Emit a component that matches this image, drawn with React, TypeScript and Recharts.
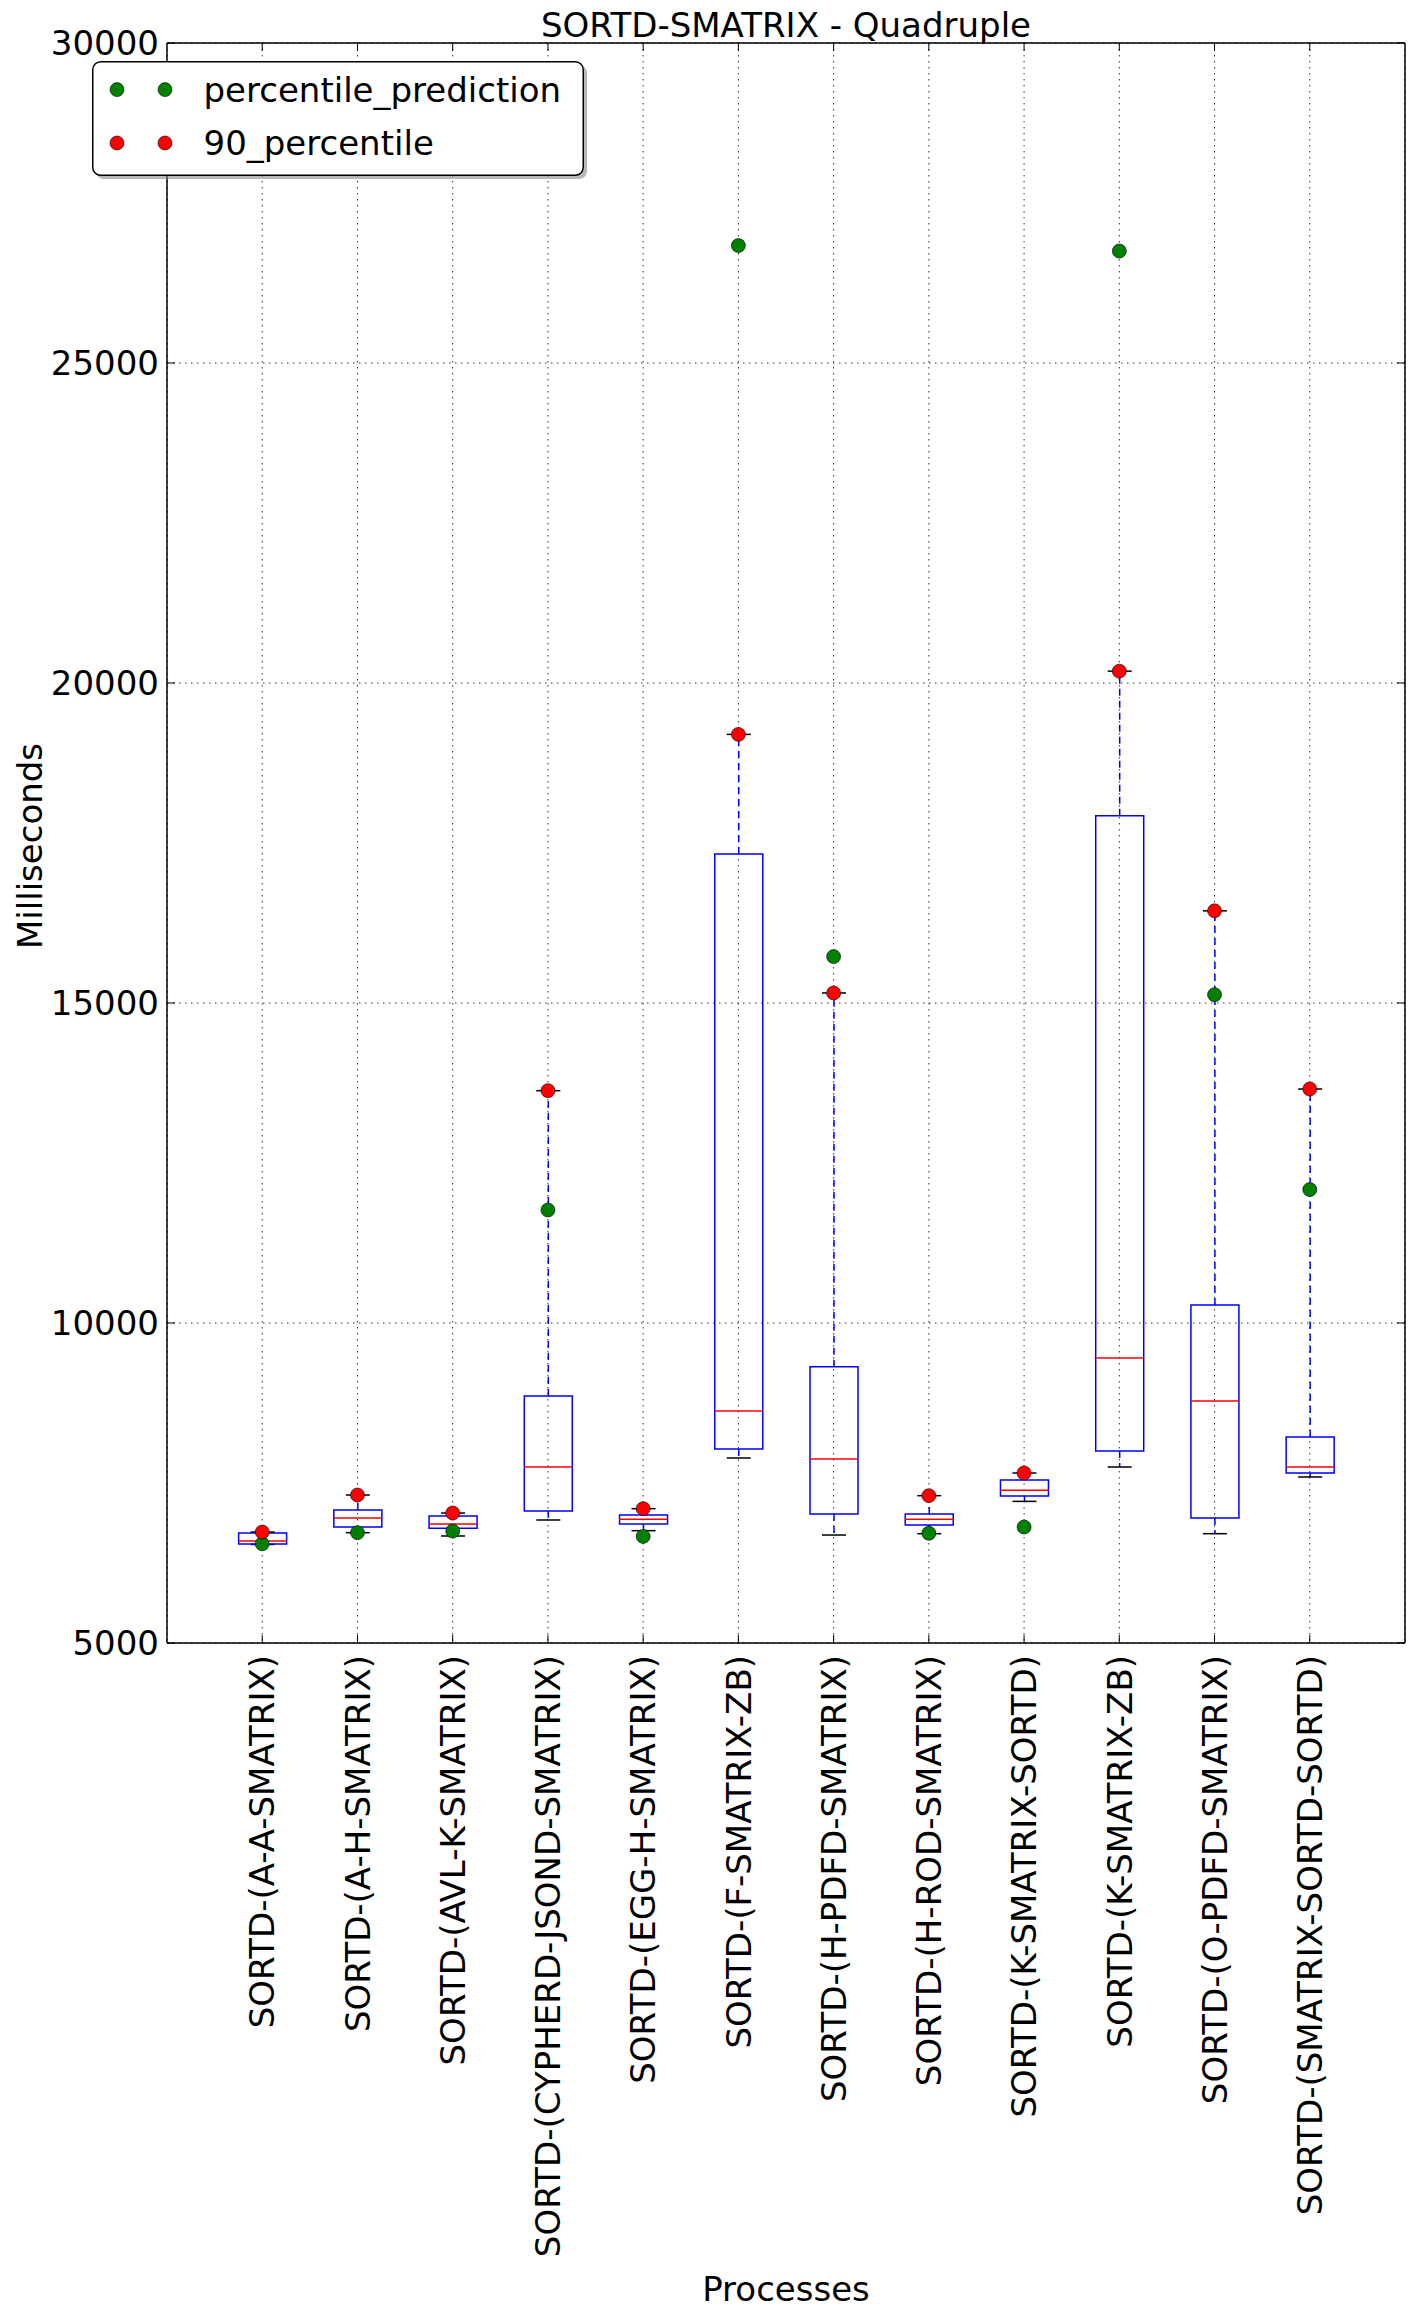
import React from 'react';
import { ComposedChart, Bar, Scatter, XAxis, YAxis, CartesianGrid, Legend } from 'recharts';

// values (milliseconds)
const processes = [
  'SORTD-(A-A-SMATRIX)',
  'SORTD-(A-H-SMATRIX)',
  'SORTD-(AVL-K-SMATRIX)',
  'SORTD-(CYPHERD-JSOND-SMATRIX)',
  'SORTD-(EGG-H-SMATRIX)',
  'SORTD-(F-SMATRIX-ZB)',
  'SORTD-(H-PDFD-SMATRIX)',
  'SORTD-(H-ROD-SMATRIX)',
  'SORTD-(K-SMATRIX-SORTD)',
  'SORTD-(K-SMATRIX-ZB)',
  'SORTD-(O-PDFD-SMATRIX)',
  'SORTD-(SMATRIX-SORTD-SORTD)',
];
const whiskerLow = [6540, 6724, 6672, 6922, 6755, 7891, 6687, 6708, 7213, 7750, 6708, 7594];
const quartile1 = [6547, 6812, 6792, 7062, 6859, 8031, 7016, 6844, 7297, 8000, 6953, 7656];
const medians = [6594, 6953, 6859, 7750, 6932, 8625, 7875, 6932, 7385, 9453, 8781, 7750];
const quartile3 = [6719, 7078, 6984, 8859, 7000, 17330, 9318, 7016, 7547, 17925, 10283, 8219];
const whiskerHigh = [6734, 7312, 7031, 13630, 7099, 19197, 15157, 7302, 7656, 20185, 16440, 13656];
const percentile90 = [6734, 7312, 7031, 13630, 7099, 19197, 15157, 7302, 7656, 20185, 16440, 13656];
const percentilePrediction = [6550, 6724, 6750, 11766, 6666, 26835, 15725, 6715, 6812, 26750, 15130, 12085];

const seriesOrder = ['percentile_prediction', '90_percentile'];
const xTicks = [1, 2, 3, 4, 5, 6, 7, 8, 9, 10, 11, 12];
const yTicks = [5000, 10000, 15000, 20000, 25000, 30000];

const FONT = '"DejaVu Sans", "Bitstream Vera Sans", sans-serif';
const BLUE = '#0000ff';
const RED = '#ff0000';
const GREEN = '#008000';

// stacked segments: invisible base, lower whisker, lower half box, upper half box, upper whisker
const data = processes.map((name, i) => ({
  x: i + 1,
  name,
  base: whiskerLow[i],
  lowWhisker: quartile1[i] - whiskerLow[i],
  lowerBox: medians[i] - quartile1[i],
  upperBox: quartile3[i] - medians[i],
  highWhisker: whiskerHigh[i] - quartile3[i],
  p90: percentile90[i],
  prediction: percentilePrediction[i],
}));

const EmptyShape = () => <g />;

const LowWhiskerShape = (p: any) => {
  const cx = p.x + p.width / 2;
  const bottom = p.y + p.height;
  return (
    <g>
      <line x1={cx} x2={cx} y1={p.y} y2={bottom} stroke={BLUE} strokeWidth={1.5} strokeDasharray="7 5" />
      <line x1={cx - p.width / 4} x2={cx + p.width / 4} y1={bottom} y2={bottom} stroke="#000" strokeWidth={1.5} />
    </g>
  );
};

const HighWhiskerShape = (p: any) => {
  const cx = p.x + p.width / 2;
  return (
    <g>
      <line x1={cx} x2={cx} y1={p.y + p.height} y2={p.y} stroke={BLUE} strokeWidth={1.5} strokeDasharray="7 5" />
      <line x1={cx - p.width / 4} x2={cx + p.width / 4} y1={p.y} y2={p.y} stroke="#000" strokeWidth={1.5} />
    </g>
  );
};

// lower half: sides + bottom edge (q1); the median edge is left to the upper half
const LowerBoxShape = (p: any) => {
  const r = p.x + p.width;
  const b = p.y + p.height;
  return (
    <path d={`M${p.x},${p.y} L${p.x},${b} L${r},${b} L${r},${p.y}`} fill="none" stroke={BLUE} strokeWidth={1.5} />
  );
};

// upper half: sides + top edge (q3), then the red median line
const UpperBoxShape = (p: any) => {
  const r = p.x + p.width;
  const b = p.y + p.height;
  return (
    <g>
      <path d={`M${p.x},${b} L${p.x},${p.y} L${r},${p.y} L${r},${b}`} fill="none" stroke={BLUE} strokeWidth={1.5} />
      <line x1={p.x} x2={r} y1={b} y2={b} stroke={RED} strokeWidth={1.5} />
    </g>
  );
};

const dotShape = (color: string) => (p: any) => (
  <circle cx={p.cx} cy={p.cy} r={7} fill={color} stroke="#000" strokeWidth={0.6} />
);

const XTick = (p: any) => {
  const { x, y, payload } = p;
  const ty = y + 12;
  return (
    <g>
      <line x1={x} x2={x} y1={y} y2={y - 8} stroke="#000" strokeWidth={1} />
      <text
        x={x}
        y={ty}
        dy="0.36em"
        transform={`rotate(-90, ${x}, ${ty})`}
        textAnchor="end"
        fontSize={34}
        fontFamily={FONT}
        fill="#000"
      >
        {processes[payload.value - 1]}
      </text>
    </g>
  );
};

const TopTick = (p: any) => (
  <line x1={p.x} x2={p.x} y1={p.y} y2={p.y + 8} stroke="#000" strokeWidth={1} />
);

const YTick = (p: any) => {
  const { x, y, payload } = p;
  return (
    <g>
      <line x1={x} x2={x + 8} y1={y} y2={y} stroke="#000" strokeWidth={1} />
      <text x={x - 8} y={y} dy="0.36em" textAnchor="end" fontSize={34} fontFamily={FONT} fill="#000">
        {payload.value}
      </text>
    </g>
  );
};

const RightTick = (p: any) => (
  <line x1={p.x} x2={p.x - 8} y1={p.y} y2={p.y} stroke="#000" strokeWidth={1} />
);

const LegendBox = ({ payload }: any) => {
  const items = (payload || [])
    .filter((e: any) => seriesOrder.includes(e.value))
    .sort((a: any, b: any) => seriesOrder.indexOf(a.value) - seriesOrder.indexOf(b.value));
  return (
    <svg width={500} height={124} style={{ display: 'block', overflow: 'visible' }}>
      <rect x={4} y={4} width={491} height={114} rx={8} fill="#888" opacity={0.6} />
      <rect x={0.75} y={0.75} width={490.5} height={113.5} rx={8} fill="#fff" stroke="#000" strokeWidth={1.5} />
      {items.map((entry: any, i: number) => {
        const cy = 28.6 + i * 53.4;
        return (
          <g key={entry.value}>
            <circle cx={25} cy={cy} r={7} fill={entry.color} stroke="#000" strokeWidth={0.6} />
            <circle cx={73} cy={cy} r={7} fill={entry.color} stroke="#000" strokeWidth={0.6} />
            <text x={111.5} y={cy} dy="0.36em" fontSize={34} fontFamily={FONT} fill="#000">
              {entry.value}
            </text>
          </g>
        );
      })}
    </svg>
  );
};

export default function App() {
  return (
    <div style={{ position: 'absolute', left: 0, top: 0, width: 1416, height: 2318, background: '#fff' }}>
      <ComposedChart width={1416} height={2318} data={data} margin={{ top: 42, right: 10, bottom: 0, left: 0 }}>
        <CartesianGrid stroke="#333" strokeDasharray="1.5 4.5" strokeWidth={1} />
        <XAxis
          dataKey="x"
          type="number"
          domain={[0, 13]}
          ticks={xTicks}
          allowDataOverflow
          height={675}
          tickSize={0}
          tickMargin={0}
          tickLine={false}
          tick={<XTick />}
          interval={0}
          axisLine={{ stroke: '#000', strokeWidth: 1.5 }}
          label={(lp: any) => {
            const vb = lp.viewBox;
            return (
              <text x={vb.x + vb.width / 2} y={2301} textAnchor="middle" fontSize={34} fontFamily={FONT} fill="#000">
                Processes
              </text>
            );
          }}
        />
        <XAxis
          xAxisId="top"
          orientation="top"
          dataKey="x"
          type="number"
          domain={[0, 13]}
          ticks={xTicks}
          allowDataOverflow
          height={1}
          tickSize={0}
          tickMargin={0}
          tickLine={false}
          tick={<TopTick />}
          interval={0}
          axisLine={{ stroke: '#000', strokeWidth: 1.5 }}
          label={(lp: any) => {
            const vb = lp.viewBox;
            return (
              <text x={vb.x + vb.width / 2} y={37} textAnchor="middle" fontSize={34} fontFamily={FONT} fill="#000">
                SORTD-SMATRIX - Quadruple
              </text>
            );
          }}
        />
        <YAxis
          type="number"
          domain={[5000, 30000]}
          ticks={yTicks}
          allowDataOverflow
          width={167}
          tickSize={0}
          tickMargin={0}
          tickLine={false}
          tick={<YTick />}
          interval={0}
          axisLine={{ stroke: '#000', strokeWidth: 1.5 }}
          label={(lp: any) => {
            const vb = lp.viewBox;
            const lx = vb.x + 42;
            const ly = vb.y + vb.height / 2 + 3;
            return (
              <text x={lx} y={ly} transform={`rotate(-90, ${lx}, ${ly})`} textAnchor="middle" fontSize={34} fontFamily={FONT} fill="#000">
                Milliseconds
              </text>
            );
          }}
        />
        <YAxis
          yAxisId="right"
          orientation="right"
          type="number"
          domain={[5000, 30000]}
          ticks={yTicks}
          allowDataOverflow
          width={1}
          tickSize={0}
          tickMargin={0}
          tickLine={false}
          tick={<RightTick />}
          interval={0}
          axisLine={{ stroke: '#000', strokeWidth: 1.5 }}
        />
        <Bar dataKey="base" stackId="box" barSize={48} shape={<EmptyShape />} legendType="none" isAnimationActive={false} />
        <Bar dataKey="lowWhisker" stackId="box" barSize={48} shape={<LowWhiskerShape />} legendType="none" isAnimationActive={false} />
        <Bar dataKey="lowerBox" stackId="box" barSize={48} shape={<LowerBoxShape />} legendType="none" isAnimationActive={false} />
        <Bar dataKey="upperBox" stackId="box" barSize={48} shape={<UpperBoxShape />} legendType="none" isAnimationActive={false} />
        <Bar dataKey="highWhisker" stackId="box" barSize={48} shape={<HighWhiskerShape />} legendType="none" isAnimationActive={false} />
        <Scatter dataKey="prediction" name="percentile_prediction" fill={GREEN} shape={dotShape(GREEN)} isAnimationActive={false} />
        <Scatter dataKey="p90" name="90_percentile" fill={RED} shape={dotShape(RED)} isAnimationActive={false} />
        <Legend
          layout="horizontal"
          verticalAlign="middle"
          align="center"
          content={<LegendBox />}
          wrapperStyle={{ left: 91.5, top: 60.7, width: 500, height: 124 }}
        />
      </ComposedChart>
    </div>
  );
}
